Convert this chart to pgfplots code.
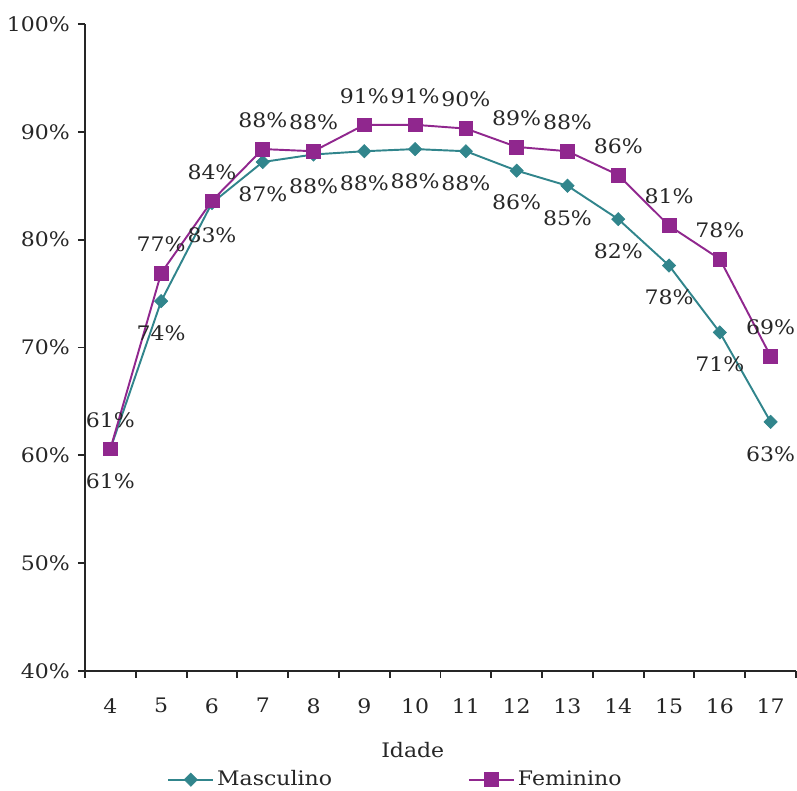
\documentclass[border=0pt]{standalone}
\usepackage{pgfplots}
\pgfplotsset{compat=1.18}
\usepackage{fontspec}
\setmainfont{DejaVu Serif}[FakeStretch=1.1]
\definecolor{tealc}{HTML}{31858C}
\definecolor{purpc}{HTML}{90278E}
\definecolor{txt}{HTML}{262626}
\begin{document}
\fontsize{15}{18}\selectfont
\begin{tikzpicture}
\begin{axis}[
  name=ax,
  at={(0,0)}, anchor=south west,
  width=533.25pt, height=485.25pt, scale only axis,
  xmin=3.5, xmax=17.5, ymin=40, ymax=100,
  axis x line=bottom, axis y line=left,
  axis line style={-, line width=1.4pt, color=txt},
  /pgf/number format/assume math mode=true,
  xtick={4,...,17},
  minor xtick={3.5,4.5,...,17.5},
  major x tick style={draw=none},
  minor x tick style={line width=1.4pt, color=txt},
  minor tick length=5.25pt,
  ytick={40,50,...,100},
  major y tick style={line width=1.4pt, color=txt},
  major tick length=5.25pt,
  tick align=outside,
  yticklabel={\pgfmathprintnumber[fixed,precision=0]{\tick}\%},
  ticklabel style={text=txt},
  xticklabel style={yshift=-10pt},
  yticklabel style={xshift=-1pt},
  xlabel={Idade},
  xlabel style={at={(axis description cs:0.461,-0.122)}, anchor=center, text=txt},
  legend style={at={(0.437,-0.168)}, anchor=center, legend columns=2, draw=none,
    text=txt, /tikz/every even column/.append style={column sep=100pt}},
  legend image code/.code={\draw[mark repeat=2,mark phase=2] plot coordinates {(0pt,0pt)(17pt,0pt)(34pt,0pt)};},
  clip=false,
]
\addplot[color=tealc, line width=1.45pt, mark=square*, mark size=3.5pt,
  mark options={rotate=45, fill=tealc, draw=tealc, line width=0.5pt},
  nodes near coords={\pgfmathprintnumber[fixed,precision=0]{\pgfplotspointmeta}\%},
  every node near coord/.append style={anchor=center, yshift=-24pt, text=txt, font=\fontsize{15}{18}\selectfont}]
coordinates {
(4,60.6) (5,74.3) (6,83.4) (7,87.2) (8,87.9) (9,88.2) (10,88.4) (11,88.2)
(12,86.4) (13,85.0) (14,81.9) (15,77.6) (16,71.4) (17,63.1)};
\addlegendentry{Masculino}
\addplot[color=purpc, line width=1.45pt, mark=square*, mark size=5.2pt,
  mark options={fill=purpc, draw=purpc, line width=0.5pt},
  nodes near coords={\pgfmathprintnumber[fixed,precision=0]{\pgfplotspointmeta}\%},
  every node near coord/.append style={anchor=center, yshift=21.75pt, text=txt, font=\fontsize{15}{18}\selectfont}]
coordinates {
(4,60.6) (5,76.9) (6,83.6) (7,88.4) (8,88.2) (9,90.65) (10,90.65) (11,90.3)
(12,88.6) (13,88.2) (14,86.0) (15,81.3) (16,78.2) (17,69.2)};
\addlegendentry{Feminino}
\end{axis}
\pgfresetboundingbox
\path (ax.south west) +(-63.75pt,-90pt) rectangle +(534pt,503.25pt);
\end{tikzpicture}
\end{document}
